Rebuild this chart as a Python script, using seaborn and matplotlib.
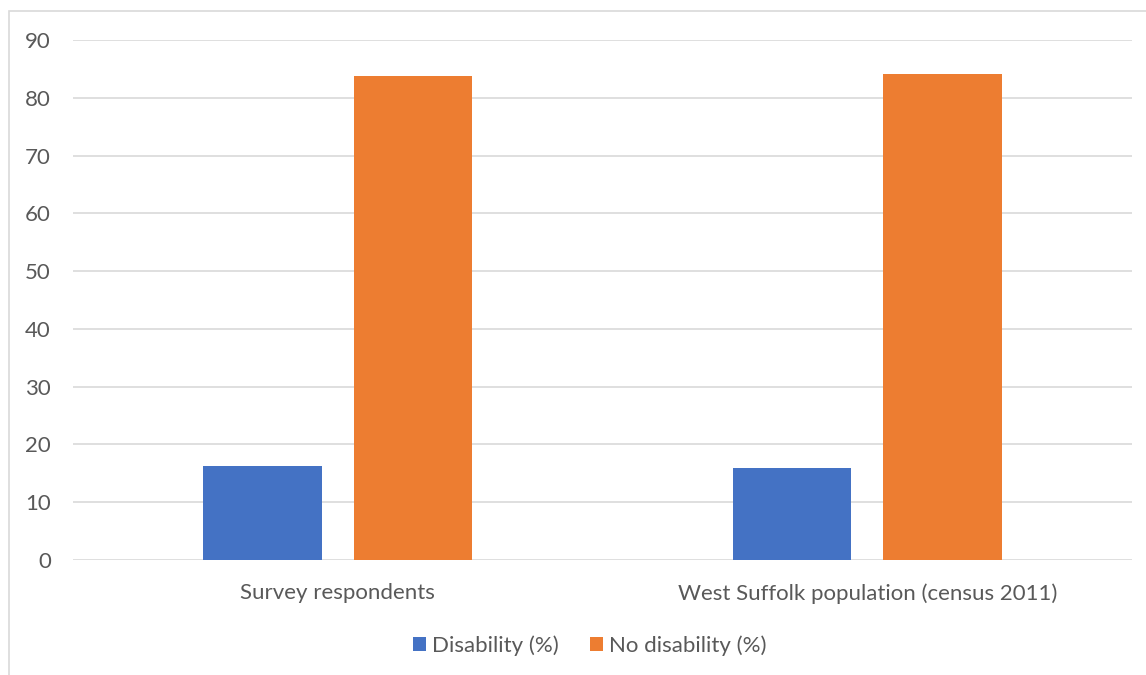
import matplotlib
matplotlib.use("Agg")
import matplotlib.pyplot as plt
from matplotlib.patches import Rectangle
import seaborn as sns
import pandas as pd

groups = ["Survey respondents", "West Suffolk population (census 2011)"]
series = ["Disability (%)", "No disability (%)"]
disability = [16.2, 15.9]
no_disability = [83.8, 84.1]
y_ticks = [0, 10, 20, 30, 40, 50, 60, 70, 80, 90]

df = pd.DataFrame({
    "group": groups * 2,
    "series": [series[0]] * len(groups) + [series[1]] * len(groups),
    "value": disability + no_disability,
})

sns.set_theme(style="white")
plt.rcParams["font.family"] = ["Lato", "DejaVu Sans"]

text_color = "#595959"
grid_color = "#D9D9D9"
palette = {series[0]: "#4472C4", series[1]: "#ED7D31"}
fs = 16

fig = plt.figure(figsize=(11.46, 6.75), dpi=100)
ax = fig.add_axes([0.0637, 0.1708, 0.9241, 0.7695])

sns.barplot(data=df, x="group", y="value", hue="series", palette=palette,
            width=0.569, gap=0.213, saturation=1, ax=ax, legend=True,
            edgecolor="none")

ax.set_xlim(-0.5, 1.5)
ax.set_ylim(0, 90)
ax.set_yticks(y_ticks)
ax.set_yticklabels([str(t) for t in y_ticks])
ax.set_xlabel("")
ax.set_ylabel("")
ax.yaxis.grid(True, color=grid_color, linewidth=1.2)
ax.set_axisbelow(True)
for s in ax.spines.values():
    s.set_visible(False)
ax.tick_params(axis="both", length=0, colors=text_color, labelsize=fs)
ax.tick_params(axis="y", pad=16)
ax.tick_params(axis="x", pad=17)

# Legend centred below the plot
handles, labels = ax.get_legend_handles_labels()
ax.legend_.remove()
fig.legend(handles, labels, loc="center", bbox_to_anchor=(0.5144, 0.044),
           ncol=2, frameon=False, fontsize=fs, labelcolor=text_color,
           handlelength=0.6, handleheight=0.6, handletextpad=0.25,
           columnspacing=1.4)

# Light chart-area border
fig.add_artist(Rectangle((9 / 1146, -0.05), 1.2, 1.05 - 11 / 675,
                         transform=fig.transFigure, fill=False,
                         edgecolor=grid_color, linewidth=1.2, clip_on=False))

fig.savefig("out.png", dpi=100)
